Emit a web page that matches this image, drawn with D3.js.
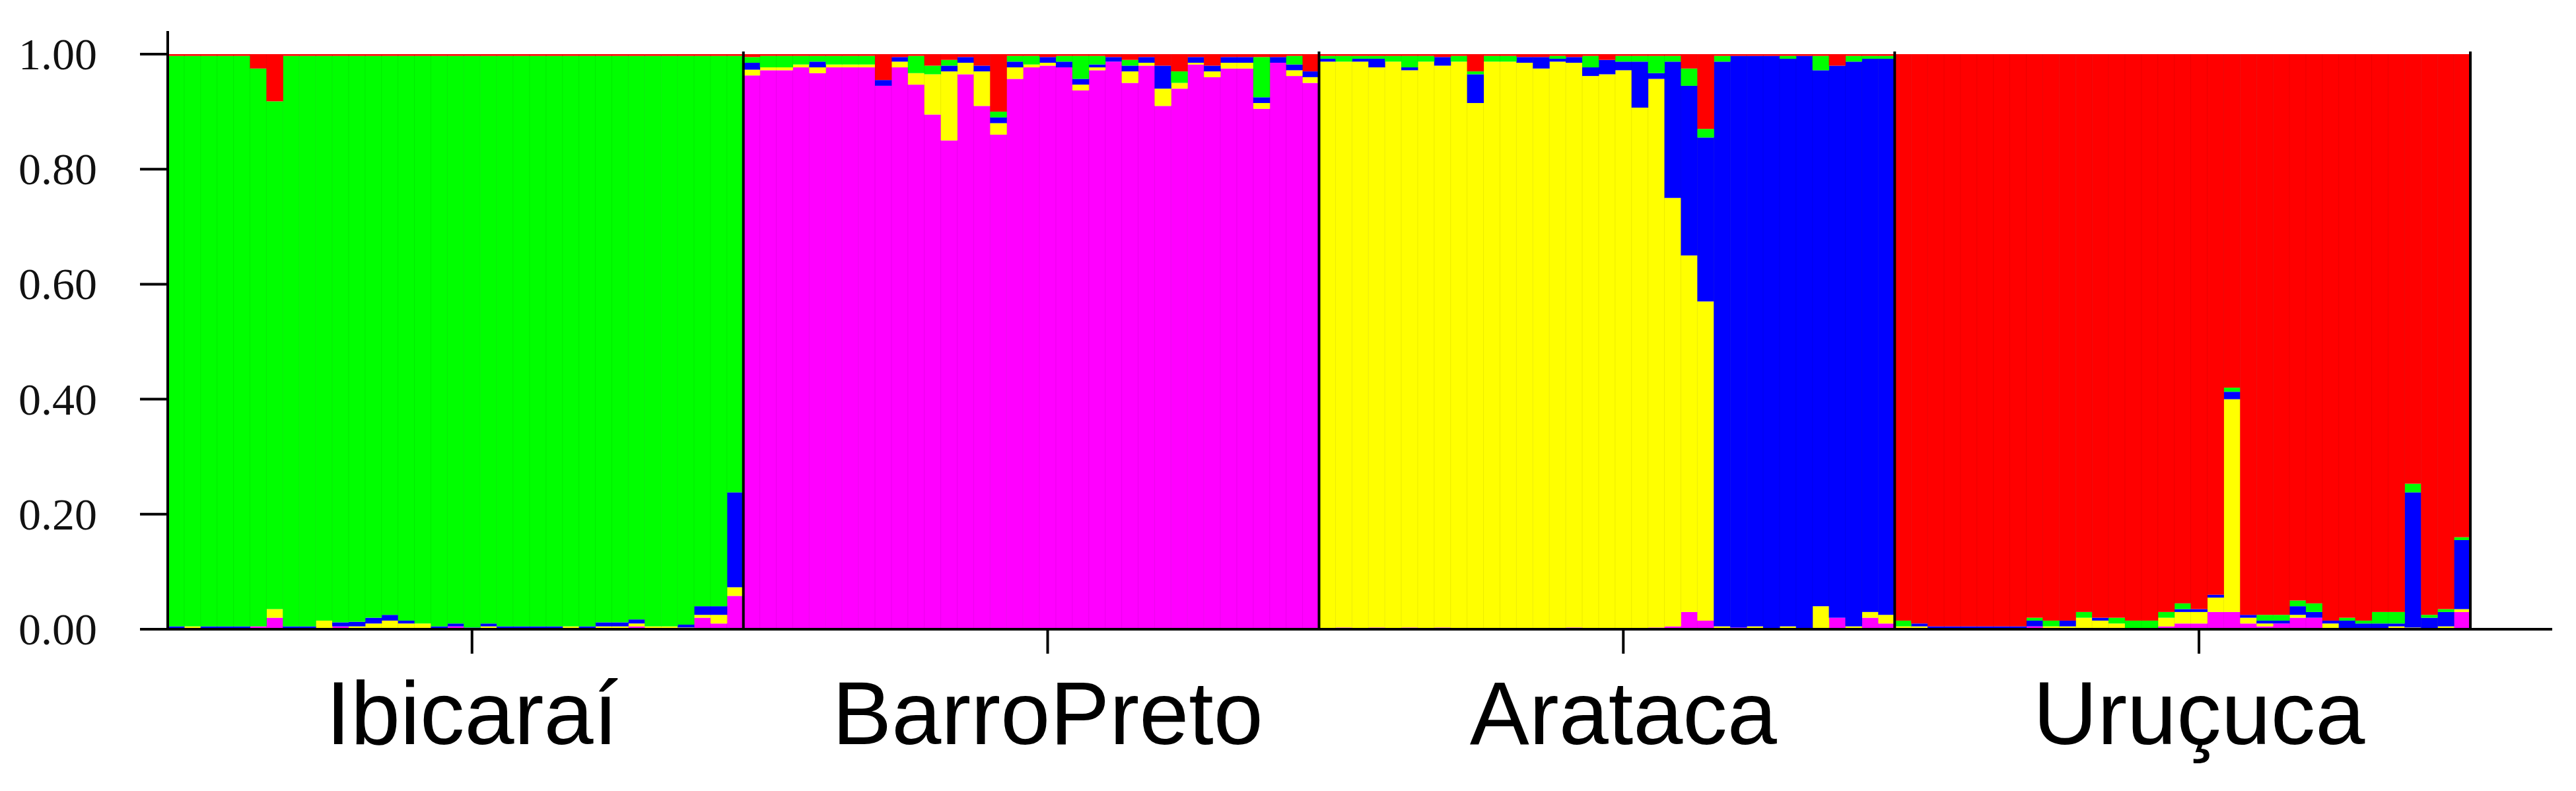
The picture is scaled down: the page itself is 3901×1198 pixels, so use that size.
<!DOCTYPE html>
<html>
<head>
<meta charset="utf-8">
<script src="https://cdn.jsdelivr.net/npm/d3@7"></script>
<style>
  html, body { margin: 0; padding: 0; background: #fff; }
</style>
</head>
<body>
<div id="chart"></div>
<script>
// cluster order, bottom to top
const clusters = ["magenta", "yellow", "blue", "green", "red"];
const clusterColors = ["#ff00ff", "#ffff00", "#0000ff", "#00ff00", "#ff0000"];

const populations = ["Ibicaraí", "BarroPreto", "Arataca", "Uruçuca"];

// rows: [magenta, yellow, blue, green, red]; null = remainder (dominant cluster)
const ibicarai = [
  [0,0,.005,null,.003],[0,.005,0,null,.003],[0,0,.005,null,.003],[0,0,.005,null,.003],[0,0,.005,null,.003],
  [.005,0,0,null,.025],[.02,.015,0,null,.082],[0,0,.005,null,.003],[0,0,.005,null,.003],[0,.015,0,null,.003],
  [.005,0,.007,null,.003],[0,.005,.008,null,.003],[0,.01,.01,null,.003],[0,.015,.01,null,.003],[0,.01,.005,null,.003],
  [0,.01,0,null,.003],[0,0,.005,null,.003],[.005,0,.005,null,.003],[0,0,.003,null,.003],[0,.005,.005,null,.003],
  [0,0,.005,null,.003],[0,0,.005,null,.003],[0,0,.005,null,.003],[0,0,.005,null,.003],[0,.005,0,null,.003],
  [0,0,.005,null,.003],[0,.005,.007,null,.003],[0,.005,.007,null,.003],[.005,.005,.007,null,.003],[0,.005,0,null,.003],
  [0,.005,0,null,.003],[0,.003,.005,null,.003],[.02,.005,.015,null,.003],[.01,.015,.015,null,.003],[.058,.015,.165,null,.003]
];
const barroPreto = [
  [null,.01,.012,.01,.005],[null,.005,0,.02,.003],[null,.005,0,.02,.003],[null,.005,0,.015,.003],[null,.01,.01,.01,.003],
  [null,.005,0,.015,.003],[null,.005,0,.015,.003],[null,.005,0,.015,.003],[null,0,.01,0,.045],[null,.01,.008,0,.005],
  [null,.02,0,.03,.003],[null,.07,0,.015,.02],[null,.12,.01,.01,.01],[null,.02,.01,0,.005],[null,.06,.01,0,.02],
  [null,.02,.01,.01,.10],[null,.02,.01,.01,.003],[null,.005,0,.015,.003],[null,.005,.01,0,.005],[null,0,.01,.01,.003],
  [null,.01,.01,.04,.003],[null,.005,.005,.015,.003],[null,0,.008,0,.005],[null,.02,.01,.01,.01],[null,.005,.01,0,.005],
  [null,.03,.04,0,.02],[null,.01,0,.02,.03],[null,.003,.01,0,.005],[null,.01,.01,0,.02],[null,.01,.01,0,.005],
  [null,.01,.01,0,.005],[null,.01,.01,.07,.005],[null,0,.01,0,.005],[null,.01,.01,.015,.003],[null,.01,.01,0,.03]
];
const arataca = [
  [0,null,.005,.005,.003],[.003,null,0,.01,.003],[0,null,.005,.005,.003],[.003,null,.015,.005,.003],[0,null,0,.01,.003],
  [.003,null,.005,.02,.003],[0,null,0,.01,.003],[.003,null,.015,0,.005],[0,null,0,.01,.003],[0,null,.05,.005,.03],
  [0,null,0,.01,.003],[0,null,0,.01,.003],[0,null,.01,0,.005],[0,null,.02,0,.005],[0,null,.005,.005,.003],
  [.003,null,.01,0,.005],[0,null,.015,.02,.003],[0,null,.025,0,.01],[0,null,.015,.01,.003],[0,null,.08,.01,.003],
  [.003,null,.01,.03,.003],[.005,.745,null,.01,.003],[.03,.62,null,.03,.025],[.015,.555,null,.015,.13],[0,.005,null,.01,.003],
  [.003,0,null,0,.003],[0,.005,null,0,.003],[0,0,null,0,.003],[0,.005,null,.005,.003],[0,0,null,0,.003],
  [0,.04,null,.025,.003],[.02,0,null,0,.02],[0,.005,null,.01,.003],[.02,.01,null,.005,.003],[.01,.015,null,.005,.003]
];
const urucuca = [
  [0,.005,0,.01,null],[0,.005,.005,0,null],[0,0,.005,0,null],[0,0,.005,0,null],[0,0,.005,0,null],
  [0,0,.005,0,null],[0,0,.005,0,null],[0,0,.005,0,null],[.005,0,.01,.005,null],[0,.005,0,.01,null],
  [0,.005,.01,0,null],[0,.02,0,.01,null],[0,.015,.005,0,null],[0,.01,0,.01,null],[0,0,0,.015,null],
  [0,0,0,.015,null],[.005,.015,0,.01,null],[.01,.02,.005,.01,null],[.01,.02,.005,0,null],[.03,.025,.005,0,null],
  [.03,.37,.013,.007,null],[.01,.01,.005,0,null],[.005,.005,.005,.01,null],[.01,0,.005,.01,null],[.02,.005,.015,.01,null],
  [.02,0,.01,.015,null],[0,.01,.005,0,null],[0,0,.015,.005,null],[0,0,.01,.005,null],[0,0,.01,.02,null],
  [0,.005,.005,.02,null],[0,.003,.235,.015,null],[0,0,.02,.005,null],[0,.005,.025,.005,null],[.03,.005,.12,.005,null]
];
const popRows = [ibicarai, barroPreto, arataca, urucuca];
const yTicks = [0, 0.2, 0.4, 0.6, 0.8, 1.0];

const width = 3901, height = 1198;
const plotLeft = 254, plotRight = 3741, plotTop = 82, plotBottom = 953, axisEnd = 3865;

// flatten individuals
const individuals = [];
popRows.forEach((rows, p) => rows.forEach(r => {
  const known = r.reduce((s, v) => s + (v === null ? 0 : v), 0);
  const q = r.map(v => v === null ? Math.max(0, 1 - known) : v);
  individuals.push({ pop: p, q: q });
}));
individuals.forEach((d, i) => d.id = i);

const x = d3.scaleBand().domain(individuals.map(d => d.id)).range([plotLeft, plotRight]).padding(0);
const y = d3.scaleLinear().domain([0, 1]).range([plotBottom, plotTop]);

const svg = d3.select("#chart").append("svg")
  .attr("width", width).attr("height", height);

// stacked bars
const stack = d3.stack()
  .keys(d3.range(clusters.length))
  .value((d, k) => d.q[k]);
const series = stack(individuals);

svg.append("g").selectAll("g")
  .data(series)
  .join("g")
  .attr("fill", (d, k) => clusterColors[k])
  .selectAll("rect")
  .data(d => d)
  .join("rect")
  .attr("x", d => x(d.data.id))
  .attr("width", x.bandwidth() + 0.5)
  .attr("y", d => y(d[1]))
  .attr("height", d => Math.max(0, y(d[0]) - y(d[1])));

// faint individual dividers
svg.append("g").selectAll("line")
  .data(individuals.slice(1))
  .join("line")
  .attr("x1", d => x(d.id)).attr("x2", d => x(d.id))
  .attr("y1", plotTop).attr("y2", plotBottom)
  .attr("stroke", "#000").attr("stroke-opacity", 0.08).attr("stroke-width", 1);

// population separators
let start = 0;
const popStarts = popRows.map(r => { const s = start; start += r.length; return s; });
const bw = x.bandwidth();
const sepX = popStarts.slice(1).map(s => x(s)).concat([plotRight]);
svg.append("g").selectAll("line")
  .data(sepX)
  .join("line")
  .attr("x1", d => d).attr("x2", d => d)
  .attr("y1", plotTop - 4).attr("y2", plotBottom)
  .attr("stroke", "#000").attr("stroke-width", 4);

// y axis
const yAxis = svg.append("g");
yAxis.append("line")
  .attr("x1", plotLeft).attr("x2", plotLeft).attr("y1", 47).attr("y2", plotBottom)
  .attr("stroke", "#000").attr("stroke-width", 4);
yAxis.selectAll("line.tick")
  .data(yTicks)
  .join("line").attr("class", "tick")
  .attr("x1", 212).attr("x2", plotLeft)
  .attr("y1", d => y(d)).attr("y2", d => y(d))
  .attr("stroke", "#000").attr("stroke-width", 4);
yAxis.selectAll("text")
  .data(yTicks)
  .join("text")
  .attr("x", 147).attr("y", d => y(d))
  .attr("text-anchor", "end").attr("dominant-baseline", "central")
  .attr("font-family", "'Liberation Serif', 'Times New Roman', serif")
  .attr("font-size", 68).attr("fill", "#111")
  .text(d => d.toFixed(2));

// x axis
const xAxis = svg.append("g");
xAxis.append("line")
  .attr("x1", plotLeft - 42).attr("x2", axisEnd).attr("y1", plotBottom).attr("y2", plotBottom)
  .attr("stroke", "#000").attr("stroke-width", 4);
const tickX = popStarts.map(s => x(s) + 18.5 * bw);
xAxis.selectAll("line.tick")
  .data(tickX)
  .join("line").attr("class", "tick")
  .attr("x1", d => d).attr("x2", d => d)
  .attr("y1", plotBottom).attr("y2", 990)
  .attr("stroke", "#000").attr("stroke-width", 4);
xAxis.selectAll("text")
  .data(populations)
  .join("text")
  .attr("x", (d, i) => tickX[i]).attr("y", 1127)
  .attr("text-anchor", "middle")
  .attr("font-family", "'Liberation Sans', Arial, sans-serif")
  .attr("font-size", 135).attr("fill", "#000")
  .text(d => d);
</script>
</body>
</html>
